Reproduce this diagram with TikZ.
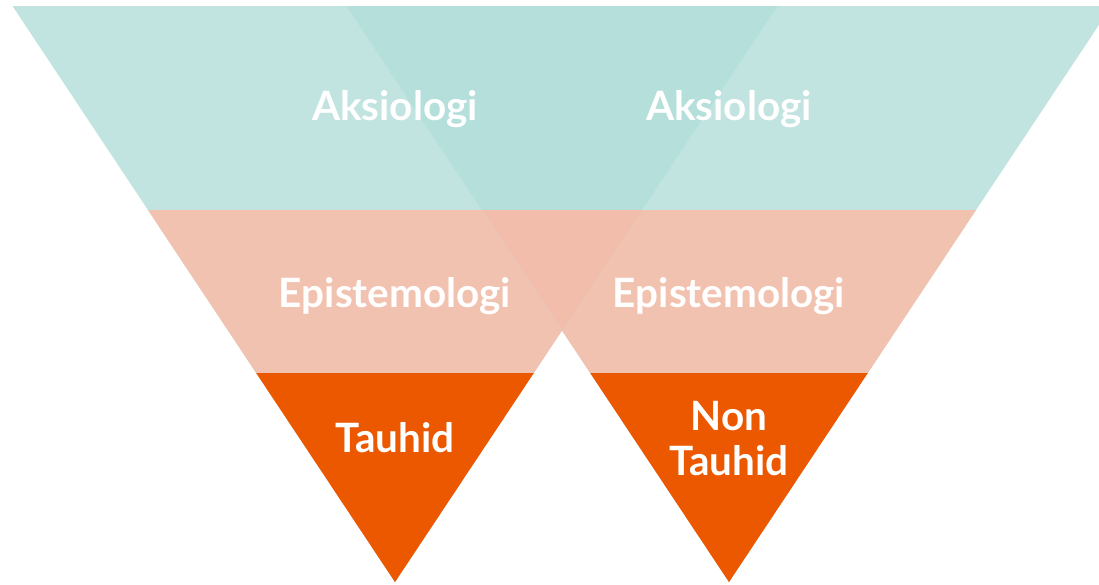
\documentclass[tikz,border=0pt]{standalone}
\usepackage{fontspec}
\setmainfont{Lato}
\usepackage{tikz}
\usetikzlibrary{calc}
\definecolor{tosca}{HTML}{C2E4E0}
\definecolor{toscatua}{HTML}{B4DFDA}
\definecolor{salem}{HTML}{F2C2B0}
\definecolor{salemtua}{HTML}{F2BDAA}
\definecolor{oranye}{HTML}{EB5800}
\tikzset{label/.style={
    text=white,
    font=\fontsize{11.5}{13}\selectfont\bfseries,
    align=center,
    inner sep=0pt}}

\begin{document}
\begin{tikzpicture}[x=0.01cm,y=-0.01cm]
\useasboundingbox (0,0) rectangle (1099,584);
\clip (0,0) rectangle (1099,584);
\coordinate (LA) at (12.5,6);
\coordinate (LB) at (777.5,6);
\coordinate (LC) at (395,582);
\coordinate (RA) at (346.5,6);
\coordinate (RB) at (1111.5,6);
\coordinate (RC) at (729,582);

% segitiga kiri
\path[fill=tosca] (LA) -- (LB) -- (LC) -- cycle;
\path[fill=salem] ($(LC)!0.6458!(LA)$) -- ($(LC)!0.6458!(LB)$) -- (LC) -- cycle;
\path[fill=oranye] ($(LC)!0.3628!(LA)$) -- ($(LC)!0.3628!(LB)$) -- (LC) -- cycle;

% segitiga kanan
\path[fill=tosca] (RA) -- (RB) -- (RC) -- cycle;
\path[fill=salem] ($(RC)!0.6458!(RA)$) -- ($(RC)!0.6458!(RB)$) -- (RC) -- cycle;
\path[fill=oranye] ($(RC)!0.3628!(RA)$) -- ($(RC)!0.3628!(RB)$) -- (RC) -- cycle;

% irisan
\begin{scope}
  \clip (LA) -- (LB) -- (LC) -- cycle;
  \path[fill=toscatua] (RA) -- (RB) -- (RC) -- cycle;
  \path[fill=salemtua] ($(RC)!0.6458!(RA)$) -- ($(RC)!0.6458!(RB)$) -- (RC) -- cycle;
\end{scope}

\node[label,anchor=base] (aksl) at (395,120) {Aksiologi};
\node[label,anchor=base] (aksr) at (729,120) {Aksiologi};
\node[label,anchor=base] (epil) at (395,307) {Epistemologi};
\node[label,anchor=base] (epir) at (729,307) {Epistemologi};
\node[label,anchor=base] (tauhid) at (395,452) {Tauhid};
\node[label,anchor=base] (non) at (729,430) {Non};
\node[label,anchor=base] (nontauhid) at (729,475) {Tauhid};
\end{tikzpicture}
\end{document}
